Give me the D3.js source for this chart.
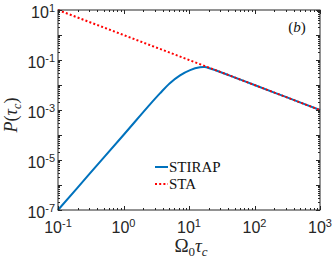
<!DOCTYPE html>
<html><head><meta charset="utf-8">
<script src="https://cdn.jsdelivr.net/npm/d3@7"></script>
<style>body{margin:0;background:#fff}svg{display:block}
.sans{font-family:"Liberation Sans","DejaVu Sans",Arial,sans-serif}
.serif{font-family:"Liberation Serif","DejaVu Serif","Times New Roman",serif}
</style>
</head><body>
<script>
// Data
const stirapX = [0.1, 0.3, 1, 2.5, 3.6, 5.1, 7.3, 10.4, 14.7, 17.4, 21, 30, 42, 60, 100, 300, 1000];
const stirapP = [1e-7, 2.7e-6, 1e-4, 1.6e-3, 4.6e-3, 0.0118, 0.0243, 0.0396, 0.051, 0.052, 0.0455, 0.0333, 0.0237, 0.0166, 0.01, 0.00333, 0.001];
const staX = [0.1, 1, 10, 100, 1000];
const staP = [10, 1, 0.1, 0.01, 0.001];
const xTickExps = [-1, 0, 1, 2, 3];
const yTickExps = [1, -1, -3, -5, -7];
const seriesNames = ["STIRAP", "STA"];

const W = 332, H = 259;
const L = 58, R = 320, T = 10, B = 210;
const axisColor = "#262626";

const svg = d3.select("body").append("svg").attr("width", W).attr("height", H);
const x = d3.scaleLog().domain([0.1, 1000]).range([L, R]);
const y = d3.scaleLog().domain([1e-7, 10]).range([B, T]);

// lines
const line = d3.line().x(d => x(d[0])).y(d => y(d[1])).curve(d3.curveCatmullRom.alpha(0.5));
svg.append("path").datum(stirapX.map((v, i) => [v, stirapP[i]]))
  .attr("d", line).attr("fill", "none").attr("stroke", "#0072BD").attr("stroke-width", 2);
svg.append("path").datum(staX.map((v, i) => [v, staP[i]]))
  .attr("d", d3.line().x(d => x(d[0])).y(d => y(d[1]))).attr("fill", "none").attr("stroke", "#FF0000").attr("stroke-width", 2)
  .attr("stroke-dasharray", "2,2.2");

// axes box with inside ticks
const g = svg.append("g").attr("stroke", axisColor).attr("fill", "none");
g.append("rect").attr("x", L).attr("y", T).attr("width", R - L).attr("height", B - T).attr("stroke-width", 1);

const xTicks = [];
for (let e = -1; e <= 3; e++) for (let m = 1; m < 10; m++) { const v = m * Math.pow(10, e); if (v <= 1000.0001) xTicks.push([v, m === 1]); }
xTicks.forEach(([v, major]) => {
  const px = Math.round(x(v)) + 0.5, len = major ? 4 : 2;
  g.append("line").attr("x1", px).attr("x2", px).attr("y1", B).attr("y2", B - len);
  g.append("line").attr("x1", px).attr("x2", px).attr("y1", T).attr("y2", T + len);
});
const yTicks = [];
for (let e = -7; e <= 1; e++) for (let m = 1; m < 10; m++) { const v = m * Math.pow(10, e); if (v <= 10.0001) yTicks.push([v, m === 1]); }
yTicks.forEach(([v, major]) => {
  const py = Math.round(y(v)) + 0.5, len = major ? 4 : 2;
  g.append("line").attr("y1", py).attr("y2", py).attr("x1", L).attr("x2", L + len);
  g.append("line").attr("y1", py).attr("y2", py).attr("x1", R).attr("x2", R - len);
});

// tick labels
xTickExps.forEach(e => {
  const t = svg.append("text").attr("class", "sans").attr("x", x(Math.pow(10, e))).attr("y", B + 23)
    .attr("text-anchor", "middle").style("font-size", "16px").attr("fill", axisColor);
  t.append("tspan").text("10");
  t.append("tspan").attr("dy", -6).style("font-size", "11px").text(e < 0 ? "-" + (-e) : String(e));
});
yTickExps.forEach(e => {
  const t = svg.append("text").attr("class", "sans").attr("x", 55).attr("y", y(Math.pow(10, e)) + 8)
    .attr("text-anchor", "end").style("font-size", "16px").attr("fill", axisColor);
  t.append("tspan").text("10");
  t.append("tspan").attr("dy", -6).style("font-size", "11px").text(e < 0 ? "-" + (-e) : String(e));
});

// x label
const xl = svg.append("text").attr("class", "serif").attr("x", 191).attr("y", 252).attr("text-anchor", "middle")
  .style("font-size", "19px").attr("fill", axisColor);
xl.append("tspan").text("Ω");
xl.append("tspan").attr("dy", 4).style("font-size", "13px").text("0");
xl.append("tspan").attr("dy", -4).style("font-style", "italic").text("τ");
xl.append("tspan").attr("dy", 4).style("font-size", "13px").style("font-style", "italic").text("c");

// y label
const yl = svg.append("text").attr("class", "serif").attr("transform", "translate(17,115) rotate(-90)").attr("text-anchor", "middle")
  .style("font-size", "18px").attr("fill", axisColor);
yl.append("tspan").style("font-style", "italic").text("P");
yl.append("tspan").text("(");
yl.append("tspan").style("font-style", "italic").text("τ");
yl.append("tspan").attr("dy", 4).style("font-size", "12px").style("font-style", "italic").text("c");
yl.append("tspan").attr("dy", -4).text(")");

// panel label
const pl = svg.append("text").attr("class", "serif").attr("x", 297).attr("y", 32).attr("text-anchor", "middle")
  .style("font-size", "15px").attr("fill", "#111");
pl.append("tspan").text("(");
pl.append("tspan").style("font-style", "italic").text("b");
pl.append("tspan").text(")");

// legend
const leg = [[seriesNames[0], "#0072BD", null, 167], [seriesNames[1], "#FF0000", "2,2.2", 184]];
leg.forEach(([name, col, dash, ly]) => {
  const l = svg.append("line").attr("x1", 155).attr("x2", 168).attr("y1", ly).attr("y2", ly)
    .attr("stroke", col).attr("stroke-width", 2);
  if (dash) l.attr("stroke-dasharray", dash);
  svg.append("text").attr("class", "serif").attr("x", 169).attr("y", ly + 5).style("font-size", "15px")
    .attr("fill", "#111").text(name);
});
</script>
</body></html>
